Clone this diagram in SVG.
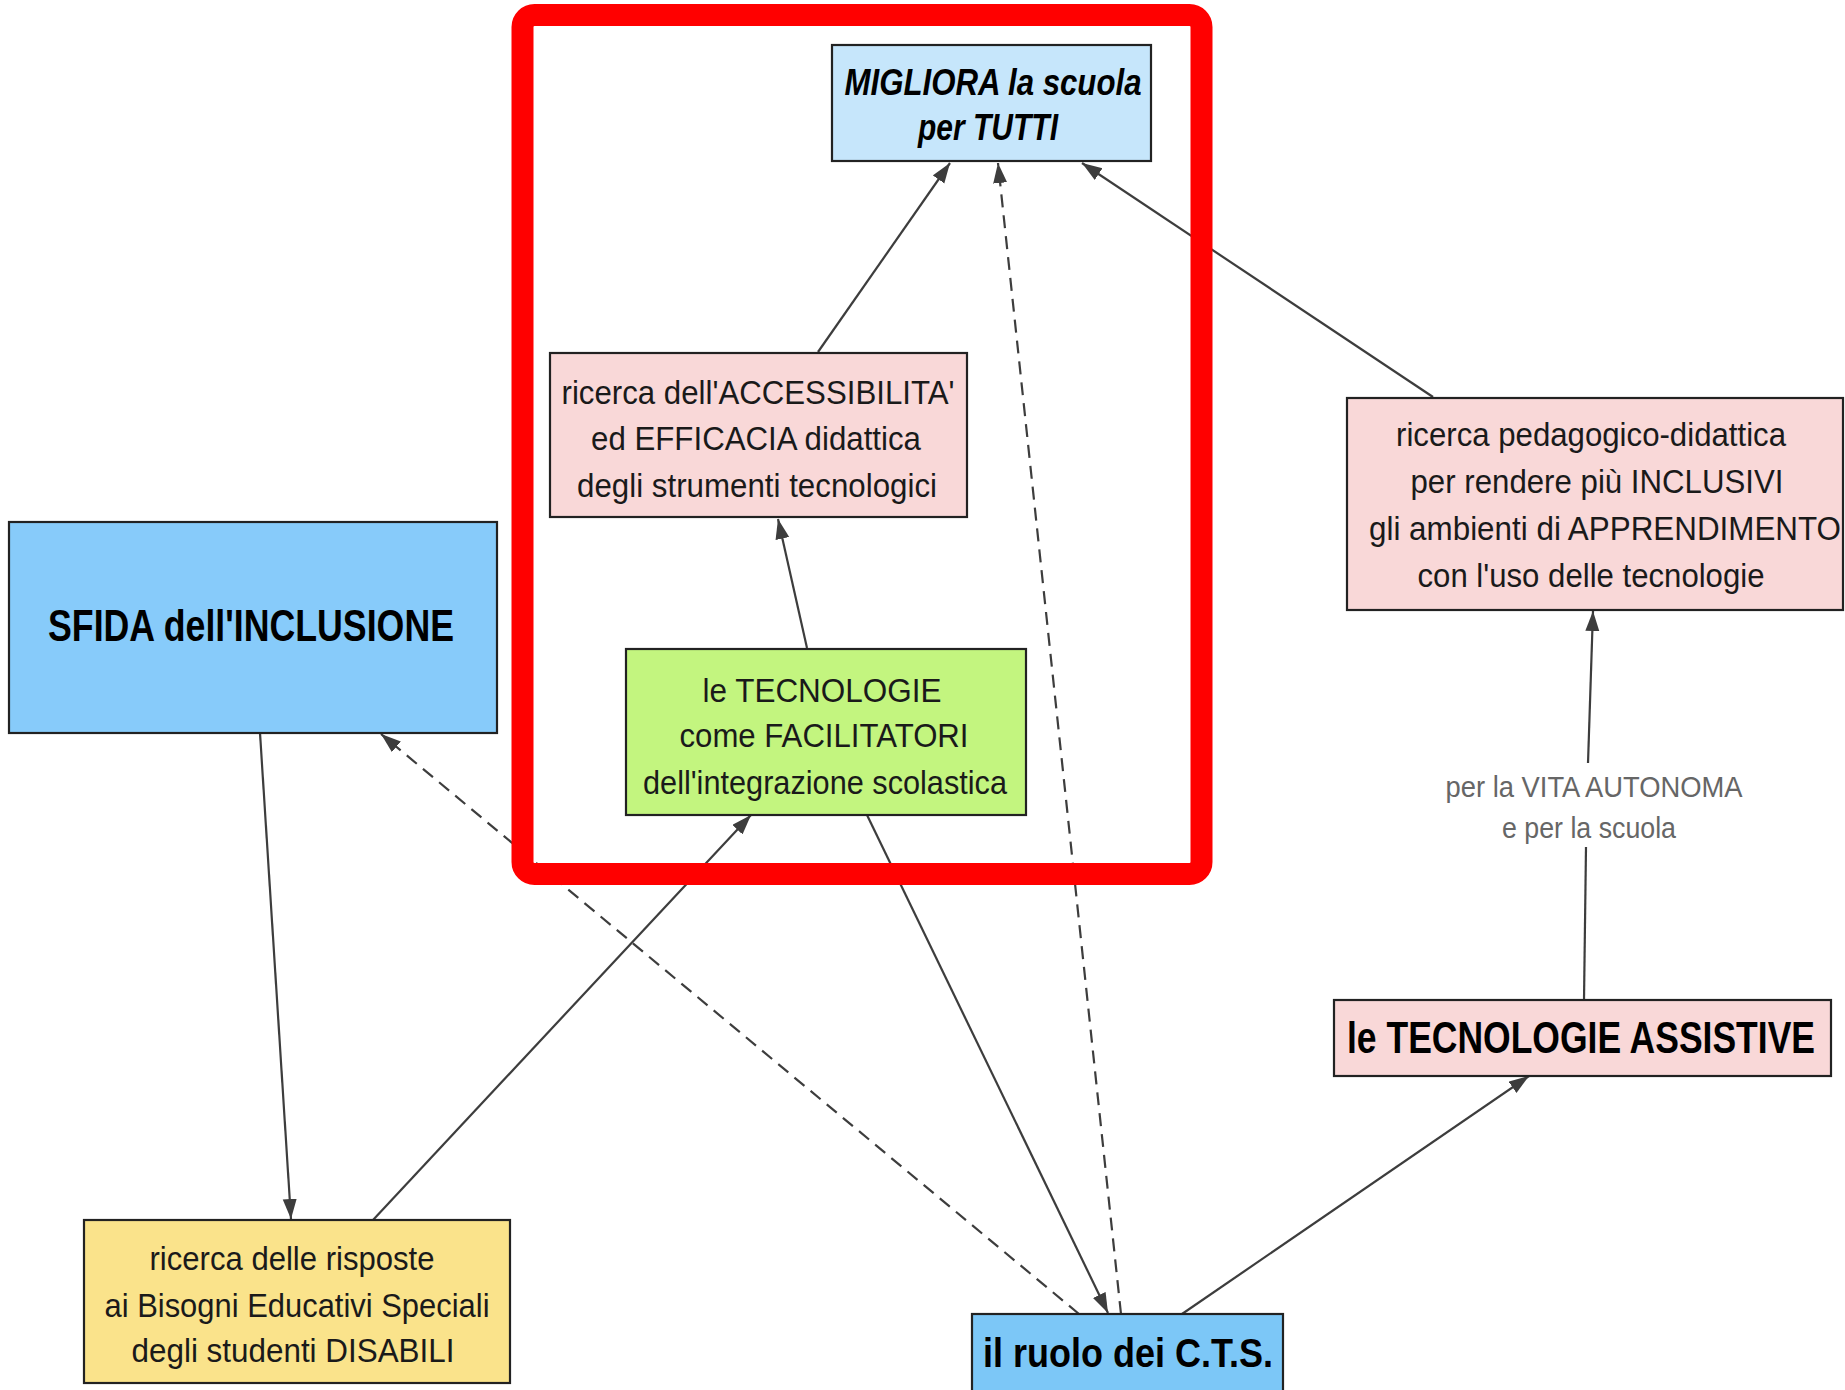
<svg xmlns="http://www.w3.org/2000/svg" width="1845" height="1390" viewBox="0 0 1845 1390">
<style>
.box{stroke:#222;stroke-width:2.2}
.t{font-family:"Liberation Sans",Arial,sans-serif;font-size:34px;fill:#1a1a1a;text-anchor:middle}
.b{font-weight:bold;font-size:44px;fill:#000}
.lbl{font-family:"Liberation Sans",Arial,sans-serif;font-size:29px;fill:#666;text-anchor:middle}
.c{stroke:#3d3d3d;stroke-width:2.2;fill:none}
.d{stroke-dasharray:13 8}
</style>
<defs>
<marker id="ah" markerUnits="userSpaceOnUse" markerWidth="22" markerHeight="16" refX="20" refY="7" orient="auto">
<path d="M0,0 L20,7 L0,14 z" fill="#3d3d3d"/>
</marker>
</defs>
<rect width="1845" height="1390" fill="#fff"/>
<g id="connectors">
<line class="c" x1="818" y1="352" x2="950" y2="163" marker-end="url(#ah)"/>
<line class="c d" x1="1121" y1="1314" x2="998" y2="163" marker-end="url(#ah)"/>
<line class="c" x1="1433" y1="397" x2="1082" y2="163" marker-end="url(#ah)"/>
<line class="c" x1="807" y1="648" x2="778" y2="519" marker-end="url(#ah)"/>
<line class="c" x1="260" y1="733" x2="291" y2="1219" marker-end="url(#ah)"/>
<line class="c" x1="373" y1="1220" x2="751" y2="815" marker-end="url(#ah)"/>
<line class="c d" x1="1079" y1="1314" x2="381" y2="734" marker-end="url(#ah)"/>
<line class="c" x1="867" y1="815" x2="1108" y2="1313" marker-end="url(#ah)"/>
<line class="c" x1="1182" y1="1314" x2="1529" y2="1076" marker-end="url(#ah)"/>
<line class="c" x1="1584" y1="1000" x2="1586" y2="847"/>
<line class="c" x1="1588" y1="763" x2="1593" y2="611" marker-end="url(#ah)"/>
<text class="lbl" x="1594" y="797" textLength="297" lengthAdjust="spacingAndGlyphs">per la VITA AUTONOMA</text>
<text class="lbl" x="1589" y="838" textLength="174" lengthAdjust="spacingAndGlyphs">e per la scuola</text>
</g>
<g id="migliora">
<rect class="box" x="832" y="45" width="319" height="116" fill="#c6e6fb"/>
<text class="t" x="993" y="95" style="font-weight:bold;font-style:italic;font-size:36px;fill:#000" textLength="297" lengthAdjust="spacingAndGlyphs">MIGLIORA la scuola</text>
<text class="t" x="988" y="140" style="font-weight:bold;font-style:italic;font-size:36px;fill:#000" textLength="140" lengthAdjust="spacingAndGlyphs">per TUTTI</text>
</g>
<g id="accessibilita">
<rect class="box" x="550" y="353" width="417" height="164" fill="#f9d8d8"/>
<text class="t" x="758" y="404" textLength="393" lengthAdjust="spacingAndGlyphs">ricerca dell'ACCESSIBILITA'</text>
<text class="t" x="756" y="450" textLength="330" lengthAdjust="spacingAndGlyphs">ed EFFICACIA didattica</text>
<text class="t" x="757" y="497" textLength="360" lengthAdjust="spacingAndGlyphs">degli strumenti tecnologici</text>
</g>
<g id="sfida">
<rect class="box" x="9" y="522" width="488" height="211" fill="#87cbfa"/>
<text class="t b" x="251" y="641" textLength="406" lengthAdjust="spacingAndGlyphs">SFIDA dell'INCLUSIONE</text>
</g>
<g id="facilitatori">
<rect class="box" x="626" y="649" width="400" height="166" fill="#c3f57f"/>
<text class="t" x="822" y="702" textLength="239" lengthAdjust="spacingAndGlyphs">le TECNOLOGIE</text>
<text class="t" x="824" y="747" textLength="289" lengthAdjust="spacingAndGlyphs">come FACILITATORI</text>
<text class="t" x="825" y="794" textLength="364" lengthAdjust="spacingAndGlyphs">dell'integrazione scolastica</text>
</g>
<g id="pedagogico">
<rect class="box" x="1347" y="398" width="496" height="212" fill="#f9d8d8"/>
<text class="t" x="1591" y="446" textLength="390" lengthAdjust="spacingAndGlyphs">ricerca pedagogico-didattica</text>
<text class="t" x="1597" y="493" textLength="373" lengthAdjust="spacingAndGlyphs">per rendere più INCLUSIVI</text>
<text class="t" x="1605" y="540" textLength="472" lengthAdjust="spacingAndGlyphs">gli ambienti di APPRENDIMENTO</text>
<text class="t" x="1591" y="587" textLength="347" lengthAdjust="spacingAndGlyphs">con l'uso delle tecnologie</text>
</g>
<g id="assistive">
<rect class="box" x="1334" y="1000" width="497" height="76" fill="#f9d8d8"/>
<text class="t b" x="1581" y="1053" textLength="468" lengthAdjust="spacingAndGlyphs">le TECNOLOGIE ASSISTIVE</text>
</g>
<g id="risposte">
<rect class="box" x="84" y="1220" width="426" height="163" fill="#fae38b"/>
<text class="t" x="292" y="1270" textLength="285" lengthAdjust="spacingAndGlyphs">ricerca delle risposte</text>
<text class="t" x="297" y="1317" textLength="385" lengthAdjust="spacingAndGlyphs">ai Bisogni Educativi Speciali</text>
<text class="t" x="293" y="1362" textLength="323" lengthAdjust="spacingAndGlyphs">degli studenti DISABILI</text>
</g>
<g id="cts">
<rect class="box" x="972" y="1314" width="311" height="78" fill="#7cc7f7"/>
<text class="t b" x="1128" y="1367" style="font-size:41px" textLength="290" lengthAdjust="spacingAndGlyphs">il ruolo dei C.T.S.</text>
</g>
<g id="highlight">
<rect x="522.5" y="15" width="679" height="859" rx="12" fill="none" stroke="#ff0000" stroke-width="22"/>
</g>
</svg>
